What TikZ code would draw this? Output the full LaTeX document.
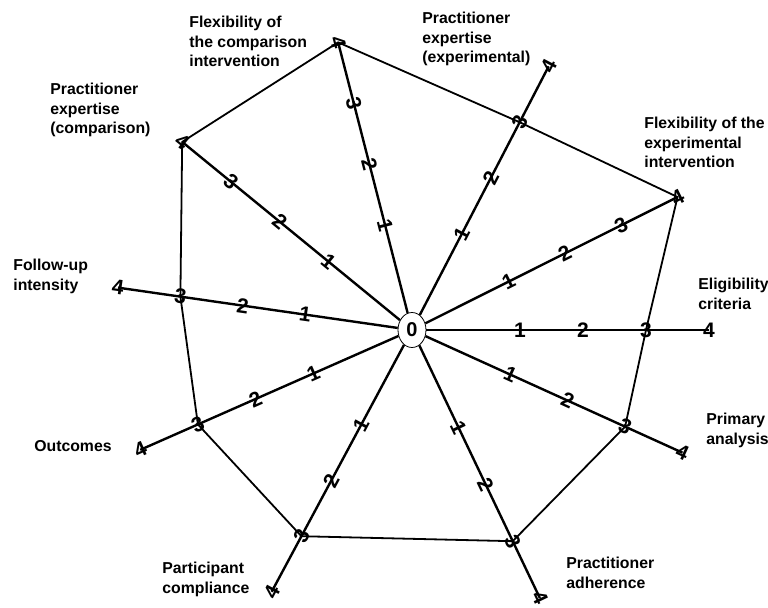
\documentclass[tikz,border=0pt]{standalone}
\usepackage{fontspec}
\setmainfont{Liberation Sans}
\usetikzlibrary{shapes,positioning}
\tikzset{
    hub/.style={ellipse, draw, thin, fill=white, inner sep=0pt, minimum width=14pt, minimum height=17.5pt, font=\fontsize{10}{10}\selectfont\bfseries},
    spoke line/.style={line width=1.2pt, black},
    rim line/.style={line width=0.9pt, black},
    score/.style={inner sep=0pt, font=\fontsize{10.5}{10.5}\selectfont\bfseries},
    dimension/.style={inner sep=0pt, align=left, font=\fontsize{7.9}{9.7}\selectfont\bfseries}
}
\begin{document}
\begin{tikzpicture}[x=0.5pt, y=0.5pt]
    \useasboundingbox (0,0) rectangle (768,607);
    \node[hub] (O) at (412,277) {0};
    % spoke number / angle, with levels 1..4 on each
    \foreach \i/\a in {1/104.4, 2/62.6, 3/26.6, 4/0, 5/-24.4, 6/-64.5, 7/-118.2, 8/203.8, 9/171.8, 10/140.7} {
        \pgfmathsetmacro\rot{\a>90 ? \a-180 : (\a<-90 ? \a+180 : \a)}
        \foreach \k in {1,...,4}
            \coordinate (s\i-\k) at ([shift={(\a:{45+63*\k})}]O.center);
        \draw[spoke line] (O) -- (s\i-4);
        \foreach \k in {1,...,4}
            \node[score, rotate=\rot] (n\i-\k) at (s\i-\k) {\k};
    }
    % the rated trial
    \draw[rim line] (s1-4) -- (s2-3) -- (s3-4) -- (s4-3) -- (s5-3) -- (s6-3)
        -- (s7-3) -- (s8-3) -- (s9-3) -- (s10-4) -- cycle;
    % domains
    \node[dimension, anchor=north west] (flexcomp) at (189,591) {Flexibility of\\the comparison\\intervention};
    \node[dimension, anchor=north west] (expexp) at (422,595) {Practitioner\\expertise\\(experimental)};
    \node[dimension, anchor=north west] (flexexp) at (644,490) {Flexibility of the\\experimental\\intervention};
    \node[dimension, anchor=north west] (elig) at (698,329) {Eligibility\\criteria};
    \node[dimension, anchor=north west] (analysis) at (706,194) {Primary\\analysis};
    \node[dimension, anchor=north west] (adher) at (566,50) {Practitioner\\adherence};
    \node[dimension, anchor=north west] (compl) at (162,45) {Participant\\compliance};
    \node[dimension, anchor=east] (outc) at (112,161) {Outcomes};
    \node[dimension, anchor=north west] (follow) at (13,348) {Follow-up\\intensity};
    \node[dimension, anchor=north west] (expcomp) at (50,524) {Practitioner\\expertise\\(comparison)};
\end{tikzpicture}
\end{document}
